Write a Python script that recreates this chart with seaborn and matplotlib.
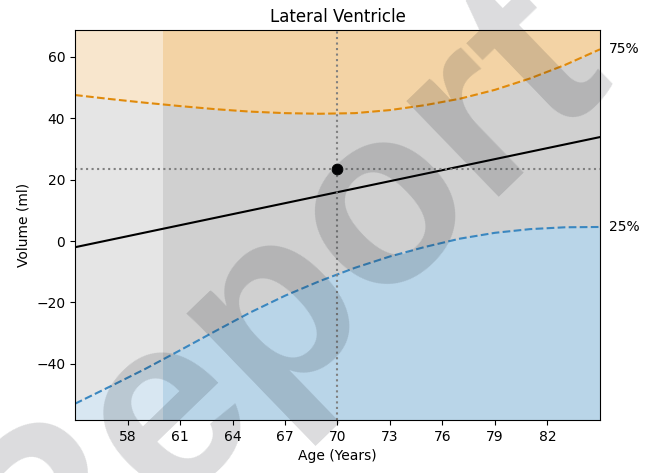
import numpy as np
import pandas as pd
import seaborn as sns
import matplotlib.pyplot as plt

ages = [55, 57, 59, 61, 63, 65, 67, 69, 71, 73, 75, 77, 79, 81, 83, 85]
p75 = [47.6, 46.3, 45.1, 44.0, 43.0, 42.2, 41.7, 41.5, 41.7, 42.7, 44.3, 46.4, 49.3, 53.0, 57.4, 62.5]
p25 = [-53.0, -47.4, -41.7, -35.6, -29.4, -23.3, -17.8, -13.0, -8.7, -5.0, -1.9, 0.8, 2.7, 3.9, 4.5, 4.6]
median_ages = [55, 85]
median_vals = [-2.0, 33.9]
subject_age = 70
subject_vol = 23.5

df = pd.DataFrame({'age': ages, 'p75': p75, 'p25': p25})
med = pd.DataFrame({'age': median_ages, 'vol': median_vals})
pt = pd.DataFrame({'age': [subject_age], 'vol': [subject_vol]})

ylo, yhi = -58.3, 68.8

fig = plt.figure(figsize=(6.54, 4.73), dpi=100)
ax = fig.add_axes([0.1147, 0.1121, 0.8027, 0.8245])
ax.set_facecolor('#d0d0d0')

ax.fill_between(df.age, df.p75, yhi, color='#f3d3a5', lw=0)
ax.fill_between(df.age, ylo, df.p25, color='#b9d5e8', lw=0)
ax.axvspan(55, 60, color='white', alpha=0.45, lw=0)

sns.lineplot(ax=ax, data=df, x='age', y='p75', color='#e08a0b', linestyle='--', lw=1.5)
sns.lineplot(ax=ax, data=df, x='age', y='p25', color='#3a87c0', linestyle='--', lw=1.5)
sns.lineplot(ax=ax, data=med, x='age', y='vol', color='black', lw=1.5)

ax.axvline(subject_age, color='gray', linestyle=':', lw=1.5)
ax.axhline(subject_vol, color='gray', linestyle=':', lw=1.5)
sns.scatterplot(ax=ax, data=pt, x='age', y='vol', color='black', s=60, zorder=5, edgecolor='black')

ax.text(85.5, p75[-1], '75%', va='center', ha='left', fontsize=10)
ax.text(85.5, p25[-1], '25%', va='center', ha='left', fontsize=10)

ax.set_xlim(55, 85)
ax.set_ylim(ylo, yhi)
ax.set_xticks(range(58, 85, 3))
ax.set_yticks(range(-40, 61, 20))
ax.set_xlabel('Age (Years)')
ax.set_ylabel('Volume (ml)')
ax.set_title('Lateral Ventricle', fontsize=12)

# watermark
fig.text(0.425, 0.357, 'Report', rotation=44, ha='center', va='center', fontsize=180,
         family='Liberation Sans', fontweight='bold', color='#10141c', alpha=0.15,
         zorder=10, rotation_mode='anchor')

fig.savefig('out.png', dpi=100)
